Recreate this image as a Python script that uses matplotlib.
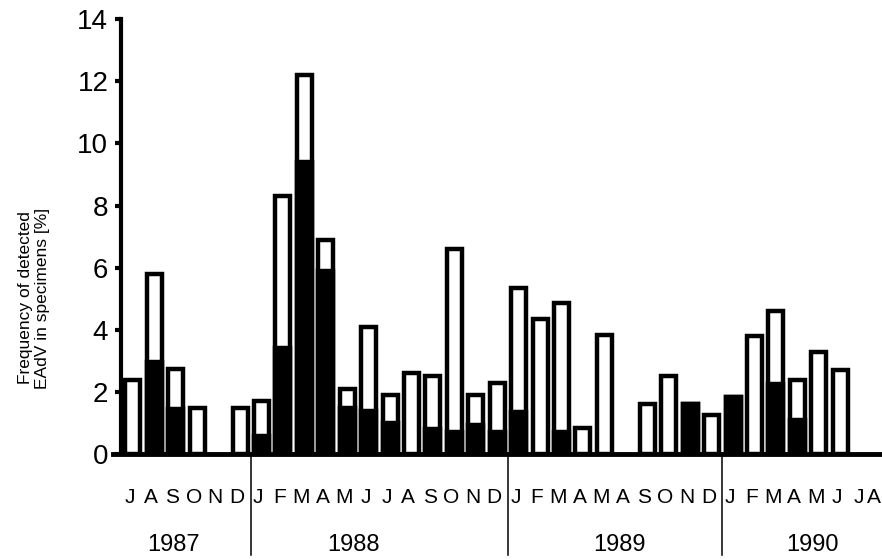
import numpy as np
import matplotlib
matplotlib.use("Agg")
import matplotlib.pyplot as plt
import matplotlib.transforms as mtransforms

plt.rcParams['font.family'] = ['Liberation Sans', 'DejaVu Sans']

# month slots as printed under the bars (1989 has only ten labels)
months_1987 = ['J', 'A', 'S', 'O', 'N', 'D']
months_1988 = ['J', 'F', 'M', 'A', 'M', 'J', 'J', 'A', 'S', 'O', 'N', 'D']
months_1989 = ['J', 'F', 'M', 'A', 'M', 'A', 'S', 'O', 'N', 'D']
months_1990 = ['J', 'F', 'M', 'A', 'M', 'J', 'J', 'A']
years = ['1987', '1988', '1989', '1990']

# total bar height (%) and the black lower part (%)
total_1987 = [2.4, 5.8, 2.75, 1.5, 0, 1.5]
total_1988 = [1.7, 8.3, 12.2, 6.9, 2.1, 4.1, 1.9, 2.6, 2.5, 6.6, 1.9, 2.3]
total_1989 = [5.35, 4.35, 4.85, 0.85, 3.85, 0, 1.6, 2.5, 1.6, 1.25]
total_1990 = [1.85, 3.8, 4.6, 2.4, 3.3, 2.7, 0, 0]

black_1987 = [0, 2.95, 1.45, 0, 0, 0]
black_1988 = [0.6, 3.4, 9.4, 5.9, 1.5, 1.4, 1.0, 0, 0.8, 0.7, 0.95, 0.7]
black_1989 = [1.35, 0, 0.7, 0, 0, 0, 0, 0, 1.6, 0]
black_1990 = [1.85, 0, 2.25, 1.1, 0, 0, 0, 0]

month_groups = [months_1987, months_1988, months_1989, months_1990]
months = sum(month_groups, [])
total = np.array(total_1987 + total_1988 + total_1989 + total_1990)
black = np.array(black_1987 + black_1988 + black_1989 + black_1990)
x = np.arange(len(months))

fig = plt.figure(figsize=(8.82, 5.6), dpi=100)
ax = fig.add_axes([0.128, 0.189, 0.872, 0.777])

# white bars with heavy outlines, black part drawn on top
show = total > 0
ax.bar(x[show], total[show], width=0.7, color='white', edgecolor='black', linewidth=3.2)
showb = black > 0
ax.bar(x[showb], black[showb], width=0.7, color='black', edgecolor='black', linewidth=3.2)

ax.set_xlim(-0.93, 34.95)
ax.set_ylim(0, 14)
ax.spines['top'].set_visible(False)
ax.spines['right'].set_visible(False)
ax.spines['left'].set_position(('data', -0.56))
ax.spines['left'].set_linewidth(3)
ax.spines['bottom'].set_linewidth(3.5)
ax.set_yticks(np.arange(0, 15, 2))
ax.tick_params(axis='y', direction='out', length=4, width=3, pad=5, labelsize=20)
ax.set_xticks([])

trans = mtransforms.blended_transform_factory(ax.transData, ax.transAxes)

# month letters (last one sits against the right edge)
for xi, m in zip(x, months):
    xl = min(xi - 0.15, 34.55)
    ax.text(xl, -0.099, m, transform=trans, ha='center', va='center',
            fontsize=15, clip_on=False)

# year dividers and year labels
start = 0
year_pos = [1.9, 10.3, 22.7, 31.7]
for i, grp in enumerate(month_groups):
    if i > 0:
        ax.plot([start - 0.5, start - 0.5], [0, -0.232], transform=trans,
                color='black', lw=1.1, clip_on=False)
    ax.text(year_pos[i], -0.209, years[i], transform=trans, ha='center',
            va='center', fontsize=17, clip_on=False)
    start += len(grp)

fig.text(34 / 882, 1 - 298 / 560, 'Frequency of detected\nEAdV in specimens [%]',
         rotation=90, ha='center', va='center', fontsize=12.5, linespacing=1.1)

fig.savefig('out.png', dpi=100)
